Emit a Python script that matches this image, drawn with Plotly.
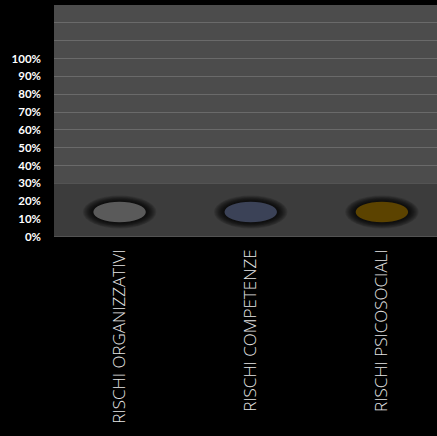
import plotly.graph_objects as go

categories = ["RISCHI ORGANIZZATIVI", "RISCHI COMPETENZE", "RISCHI PSICOSOCIALI"]
values = [14, 14, 14]
marker_colors = ["#5a5a5a", "#3b4257", "#5c4300"]
y_tick_vals = [0, 10, 20, 30, 40, 50, 60, 70, 80, 90, 100, 110, 120, 130]
y_tick_text = ["0%", "10%", "20%", "30%", "40%", "50%", "60%", "70%", "80%", "90%", "100%", "", "", ""]

fig = go.Figure()

# invisible scatter to anchor categories
fig.add_trace(go.Scatter(x=categories, y=values, mode="markers",
                         marker=dict(size=1, opacity=0), hoverinfo="skip", showlegend=False))

shapes = []
# lower background band (covers gridlines)
shapes.append(dict(type="rect", xref="paper", yref="y", x0=0, x1=1, y0=0, y1=30,
                   fillcolor="#3c3c3c", line=dict(width=0), layer="above"))
# bottom axis line
shapes.append(dict(type="line", xref="paper", yref="y", x0=0, x1=1, y0=0, y1=0,
                   line=dict(color="#6a6a6a", width=1), layer="above"))

hw, hh = 0.2, 5.7  # ellipse half sizes in data units
for i, (v, c) in enumerate(zip(values, marker_colors)):
    # soft dark halo
    n = 9
    for k in range(n):
        s = 1.0 - k / n
        ex = hw + 0.075 * s + 0.005
        ey = hh + 3.3 * s + 0.2
        shapes.append(dict(type="circle", xref="x", yref="y",
                           x0=i - ex, x1=i + ex, y0=v - ey, y1=v + ey,
                           fillcolor="black", opacity=0.13, line=dict(width=0), layer="above"))
    shapes.append(dict(type="circle", xref="x", yref="y",
                       x0=i - hw, x1=i + hw, y0=v - hh, y1=v + hh,
                       fillcolor=c, line=dict(width=0), layer="above"))

fig.update_layout(
    width=437, height=436,
    margin=dict(l=54, r=0, t=5, b=199),
    paper_bgcolor="black",
    plot_bgcolor="#4c4c4c",
    shapes=shapes,
    showlegend=False,
    xaxis=dict(
        type="category", range=[-0.5, 2.42],
        showgrid=False, zeroline=False, showline=False,
        tickangle=-90, ticks="", ticklabelstandoff=8,
        tickfont=dict(family="Open Sans", size=17, color="#e6e6e6", weight=300),
    ),
    yaxis=dict(
        range=[0, 130], tickvals=y_tick_vals, ticktext=y_tick_text,
        showgrid=True, gridcolor="#6a6a6a", gridwidth=1,
        zeroline=False, showline=False, ticks="", ticklabelstandoff=12,
        tickfont=dict(family="Lato", size=11.5, color="white", weight="bold"),
    ),
)

fig.write_html("out.html", config={"displayModeBar": False},
               post_script="document.body.style.margin='0';document.body.style.background='black';document.body.style.overflow='hidden';")
